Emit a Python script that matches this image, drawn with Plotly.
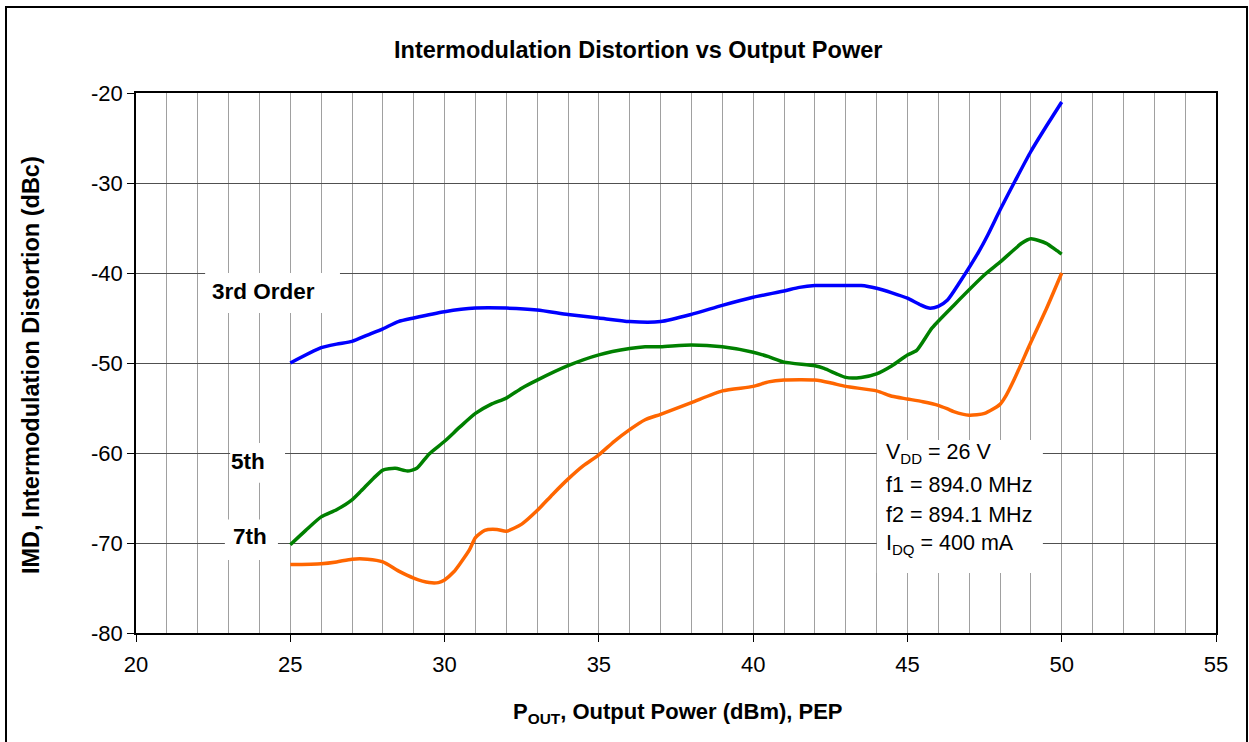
import plotly.graph_objects as go

# ---- data ----
x_3rd = [25, 26, 26.5, 27, 27.5, 28, 28.5, 29, 30, 31, 32, 33, 34, 35, 36, 37, 38, 39, 40, 41,
         41.5, 42, 43, 43.5, 44, 44.5, 45, 45.4, 45.7, 46.0, 46.3, 46.7, 47.3, 47.6, 48, 48.5,
         49, 49.5, 50]
y_3rd = [-50, -48.3, -47.9, -47.6, -46.9, -46.2, -45.4, -45.0, -44.3, -43.9, -43.9, -44.1,
         -44.6, -45.0, -45.4, -45.4, -44.6, -43.6, -42.7, -42.0, -41.6, -41.4, -41.4, -41.4,
         -41.7, -42.2, -42.8, -43.5, -43.9, -43.7, -43.0, -41.0, -37.7, -35.8, -33.0, -29.7,
         -26.5, -23.7, -21.0]

x_5th = [25, 25.5, 26, 26.5, 27, 27.3, 27.7, 28, 28.4, 28.8, 29.1, 29.5, 30, 30.5, 31, 31.5,
         32, 32.5, 33, 34, 35, 36, 36.5, 37, 38, 39, 40, 40.5, 41, 42, 42.3, 42.7, 43, 43.5,
         44, 44.5, 45, 45.3, 45.8, 46.5, 47.5, 48, 48.7, 49, 49.5, 49.8, 50]
y_5th = [-70.2, -68.6, -67.1, -66.3, -65.2, -64.2, -62.8, -61.9, -61.7, -62.0, -61.7, -60.1,
         -58.7, -57.1, -55.6, -54.6, -53.9, -52.8, -51.9, -50.3, -49.1, -48.4, -48.2, -48.2,
         -48.0, -48.2, -48.8, -49.3, -49.9, -50.3, -50.6, -51.2, -51.6, -51.6, -51.2, -50.3,
         -49.1, -48.6, -46.1, -43.6, -40.2, -38.8, -36.7, -36.2, -36.7, -37.4, -37.9]

x_7th = [25, 26, 26.5, 27, 27.5, 28, 28.5, 29, 29.5, 29.8, 30, 30.3, 30.5, 30.8, 31, 31.3,
         31.7, 32, 32.5, 33, 33.5, 34, 34.5, 35, 35.5, 36, 36.5, 37, 38, 39, 40, 40.5, 41,
         42, 42.5, 43, 44, 44.5, 45, 45.5, 46, 46.3, 46.5, 47, 47.5, 48, 48.2, 48.45, 49,
         49.5, 50]
y_7th = [-72.4, -72.3, -72.1, -71.8, -71.8, -72.1, -73.1, -73.9, -74.4, -74.4, -74.1, -73.2,
         -72.3, -70.8, -69.4, -68.6, -68.5, -68.7, -67.9, -66.4, -64.6, -62.9, -61.4, -60.2,
         -58.7, -57.4, -56.3, -55.7, -54.4, -53.1, -52.6, -52.1, -51.9, -51.9, -52.2, -52.6,
         -53.1, -53.7, -54.0, -54.3, -54.7, -55.1, -55.4, -55.8, -55.6, -54.6, -53.6, -51.9,
         -47.7, -44.0, -40.0]

series_names = ["3rd Order", "5th", "7th"]
series_colors = ["#0000ff", "#008000", "#ff6600"]

x_ticks = [20, 25, 30, 35, 40, 45, 50, 55]
y_ticks = [-80, -70, -60, -50, -40, -30, -20]

FONT = "Liberation Sans, Arial, sans-serif"

fig = go.Figure()
for xs, ys, name, col in zip([x_3rd, x_5th, x_7th], [y_3rd, y_5th, y_7th], series_names, series_colors):
    fig.add_trace(go.Scatter(x=xs, y=ys, mode="lines", name=name,
                             line=dict(color=col, width=3.5, shape="spline", smoothing=0.6)))

fig.update_layout(
    width=1249, height=742,
    margin=dict(l=136, r=33, t=93, b=109),
    paper_bgcolor="white", plot_bgcolor="white",
    showlegend=False,
    font=dict(family=FONT, size=22, color="black"),
    title=dict(text="<b>Intermodulation Distortion vs Output Power</b>",
               x=0.511, xanchor="center", y=1 - 50 / 742, yanchor="middle",
               font=dict(family=FONT, size=23.5, color="black")),
)

fig.update_xaxes(range=[20, 55], tickvals=x_ticks, ticktext=[str(v) for v in x_ticks],
                 showgrid=True, gridcolor="#a0a0a0", gridwidth=1,
                 minor=dict(dtick=1, showgrid=True, gridcolor="#a0a0a0", gridwidth=1),
                 ticks="outside", ticklen=7, tickcolor="black", ticklabelstandoff=4,
                 showline=True, linecolor="black", linewidth=1.5, mirror=True,
                 zeroline=False, tickfont=dict(size=22))
fig.update_yaxes(range=[-80, -20], tickvals=y_ticks, ticktext=[str(v) for v in y_ticks],
                 showgrid=True, gridcolor="#505050", gridwidth=1,
                 ticks="outside", ticklen=7, tickcolor="black",
                 showline=True, linecolor="black", linewidth=1.5, mirror=True,
                 zeroline=False, tickfont=dict(size=22))

# white label boxes (cover gridlines)
boxes = [
    (22.24, 26.61, -40.0, -44.44),
    (23.05, 24.83, -58.9, -63.3),
    (22.88, 24.60, -67.4, -71.9),
    (44.01, 49.39, -58.56, -73.33),
]
for x0, x1, y0, y1 in boxes:
    fig.add_shape(type="rect", xref="x", yref="y", x0=x0, x1=x1, y0=y0, y1=y1,
                  fillcolor="white", line=dict(width=0), layer="above")

# outer border
fig.add_shape(type="rect", xref="paper", yref="paper",
              x0=(6 - 136) / 1080, x1=(1247 - 136) / 1080,
              y0=(633 - 748) / 540, y1=(633 - 7) / 540,
              line=dict(color="black", width=2), fillcolor="rgba(0,0,0,0)", layer="above")

# series labels
labels = [("<b>3rd Order</b>", 24.12, -42.0), ("<b>5th</b>", 23.63, -60.9), ("<b>7th</b>", 23.69, -69.3)]
for txt, xx, yy in labels:
    fig.add_annotation(x=xx, y=yy, xref="x", yref="y", text=txt, showarrow=False,
                       font=dict(family=FONT, size=22.5, color="black"))

# conditions text
cond = ["V<sub>DD</sub> = 26 V", "f1 = 894.0 MHz", "f2 = 894.1 MHz", "I<sub>DQ</sub> = 400 mA"]
cond_y = [-60.0, -63.6, -66.9, -70.2]
for txt, yy in zip(cond, cond_y):
    fig.add_annotation(x=44.24, y=yy, xref="x", yref="y", text=txt, showarrow=False,
                       xanchor="left", yanchor="middle",
                       font=dict(family=FONT, size=21.5, color="black"))

# axis titles
fig.add_annotation(xref="paper", yref="paper", x=(31 - 136) / 1080, y=(633 - 365) / 540,
                   xanchor="center", yanchor="middle",
                   text="<b>IMD, Intermodulation Distortion (dBc)</b>", textangle=-90,
                   showarrow=False, font=dict(family=FONT, size=23.5, color="black"))
fig.add_annotation(xref="paper", yref="paper", x=(678 - 136) / 1080, y=(633 - 713) / 540,
                   xanchor="center", yanchor="middle",
                   text="<b>P<sub>OUT</sub>, Output Power (dBm), PEP</b>",
                   showarrow=False, font=dict(family=FONT, size=22, color="black"))

fig.write_html("out.html", config={"displayModeBar": False},
               post_script="document.body.style.margin='0';document.body.style.overflow='hidden';")
